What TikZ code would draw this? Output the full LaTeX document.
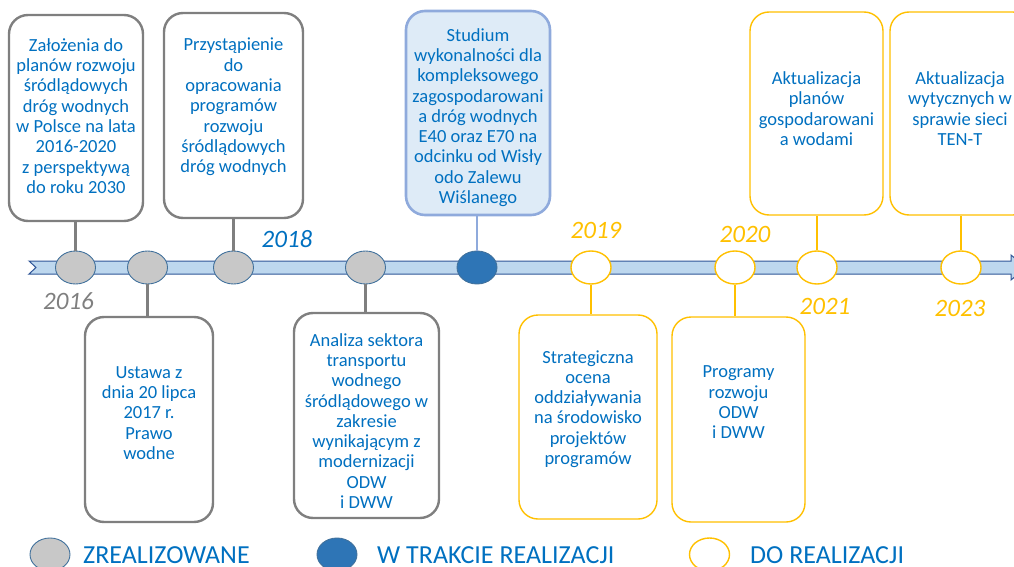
\documentclass[tikz,border=0pt]{standalone}
\usepackage{fontspec}
\setmainfont{Carlito}
\usetikzlibrary{shapes.geometric}
\definecolor{txtblue}{HTML}{0070C0}
\definecolor{grayline}{HTML}{7F7F7F}
\definecolor{grayfill}{HTML}{C8C8C8}
\definecolor{circborder}{HTML}{41719C}
\definecolor{darkblue}{HTML}{2E75B6}
\definecolor{ylw}{HTML}{FFC000}
\definecolor{barfill}{HTML}{BDD7EE}
\definecolor{barline}{HTML}{2F5597}
\definecolor{studfill}{HTML}{DEEBF7}
\definecolor{studline}{HTML}{8FAADC}
\tikzset{
  boxbase/.style={rectangle, rounded corners=19pt, fill=white, inner sep=0pt},
  graybox/.style={boxbase, draw=grayline, line width=2.4pt},
  studbox/.style={boxbase, draw=studline, fill=studfill, line width=2.6pt},
  ylwbox/.style={boxbase, draw=ylw, line width=1.4pt},
  txt/.style={text=txtblue, align=center, inner sep=0pt,
    font=\fontsize{18.5}{20.3}\selectfont,
    execute at begin node={\strut}, execute at end node={\strut}},
  dotbase/.style={ellipse, minimum width=40pt, minimum height=33pt, inner sep=0pt},
  graydot/.style={dotbase, fill=grayfill, draw=circborder, line width=0.9pt},
  darkdot/.style={dotbase, fill=darkblue, draw=circborder, line width=0.9pt},
  ylwdot/.style={dotbase, fill=white, draw=ylw, line width=1.4pt},
  grayconn/.style={draw=grayline, line width=2.4pt},
  studconn/.style={draw=studline, line width=2.8pt},
  ylwconn/.style={draw=ylw, line width=2.8pt},
  yearlbl/.style={font=\fontsize{25}{30}\selectfont\itshape, inner sep=0pt, anchor=base},
  legtxt/.style={text=txtblue, font=\fontsize{26}{30}\selectfont, inner sep=0pt, anchor=base west}
}
\begin{document}
\begin{tikzpicture}[x=1pt,y=-1pt]
\useasboundingbox (0,0) rectangle (1014,567);
\clip (0,0) rectangle (1014,567);

% timeline bar
\draw[fill=barfill, draw=barline, line width=1pt]
  (29,261) -- (36,267.5) -- (29,274) -- (1011,274) -- (1011,280) -- (1026,267.5)
  -- (1011,255) -- (1011,261) -- cycle;

% milestones
\node[graydot] (c1) at (75.5,267.5) {};
\node[graydot] (c2) at (147.5,267.5) {};
\node[graydot] (c3) at (233.5,267.5) {};
\node[graydot] (c4) at (365.5,267.5) {};
\node[darkdot] (c5) at (477,267.5) {};
\node[ylwdot] (c6) at (591,267.5) {};
\node[ylwdot] (c7) at (735,267.5) {};
\node[ylwdot] (c8) at (817,267.5) {};
\node[ylwdot] (c9) at (961,267.5) {};

% boxes
\node[graybox, minimum width=134pt, minimum height=206pt] (b1) at (76,118) {};
\node[graybox, minimum width=139pt, minimum height=205pt] (b2) at (233.5,115.5) {};
\node[studbox, minimum width=144pt, minimum height=204pt] (b3) at (478,113) {};
\node[ylwbox, minimum width=133pt, minimum height=203pt] (b4) at (816.5,113.5) {};
\node[ylwbox, minimum width=142pt, minimum height=203pt] (b5) at (961,113.5) {};
\node[graybox, minimum width=128pt, minimum height=205pt] (b6) at (149,419.5) {};
\node[graybox, minimum width=145pt, minimum height=205pt] (b7) at (366.5,415.5) {};
\node[ylwbox, minimum width=138pt, minimum height=204pt] (b8) at (588,417) {};
\node[ylwbox, minimum width=133pt, minimum height=205pt] (b9) at (738.5,419.5) {};

% box texts
\node[txt] (t1) at (76,119) {Założenia do\\planów rozwoju\\śródlądowych\\dróg wodnych\\w Polsce na lata\\2016-2020\\z perspektywą\\do roku 2030};
\node[txt] (t2) at (233.5,108.5) {Przystąpienie\\do\\opracowania\\programów\\rozwoju\\śródlądowych\\dróg wodnych};
\node[txt] (t3) at (478,119) {Studium\\wykonalności dla\\kompleksowego\\zagospodarowani\\a dróg wodnych\\E40 oraz E70 na\\odcinku od Wisły\\odo Zalewu\\Wiślanego};
\node[txt] (t4) at (816.5,111.5) {Aktualizacja\\planów\\gospodarowani\\a wodami};
\node[txt] (t5) at (960,111.5) {Aktualizacja\\wytycznych w\\sprawie sieci\\TEN-T};
\node[txt] (t6) at (149,416) {Ustawa z\\dnia 20 lipca\\2017 r.\\Prawo\\wodne};
\node[txt] (t7) at (366.5,424) {Analiza sektora\\transportu\\wodnego\\śródlądowego w\\zakresie\\wynikającym z\\modernizacji\\ODW\\i DWW};
\node[txt] (t8) at (588,410.5) {Strategiczna\\ocena\\oddziaływania\\na środowisko\\projektów\\programów};
\node[txt] (t9) at (738.5,405.5) {Programy\\rozwoju\\ODW\\i DWW};

% connectors
\draw[grayconn] (c1.north) -- (c1.north |- b1.south);
\draw[grayconn] (c3.north) -- (c3.north |- b2.south);
\draw[studconn] (c5.north) -- (c5.north |- b3.south);
\draw[ylwconn] (c8.north) -- (c8.north |- b4.south);
\draw[ylwconn] (c9.north) -- (c9.north |- b5.south);
\draw[grayconn] (c2.south) -- (c2.south |- b6.north);
\draw[grayconn] (c4.south) -- (c4.south |- b7.north);
\draw[ylwconn] (c6.south) -- (c6.south |- b8.north);
\draw[ylwconn] (c7.south) -- (c7.south |- b9.north);

% years
\node[yearlbl, text=grayline] (y2016) at (68.5,309) {2016};
\node[yearlbl, text=txtblue] (y2018) at (287,247) {2018};
\node[yearlbl, text=ylw] (y2019) at (596,238.5) {2019};
\node[yearlbl, text=ylw] (y2020) at (745,242) {2020};
\node[yearlbl, text=ylw] (y2021) at (825,314) {2021};
\node[yearlbl, text=ylw] (y2023) at (960,316) {2023};

% legend
\node[graydot] (l1) at (50,554.5) {};
\node[darkdot] (l2) at (337,554.5) {};
\node[ylwdot] (l3) at (709.5,554.5) {};
\node[legtxt] (lt1) at (83,563) {ZREALIZOWANE};
\node[legtxt] (lt2) at (377,563) {W TRAKCIE REALIZACJI};
\node[legtxt] (lt3) at (750,563) {DO REALIZACJI};
\end{tikzpicture}
\end{document}
